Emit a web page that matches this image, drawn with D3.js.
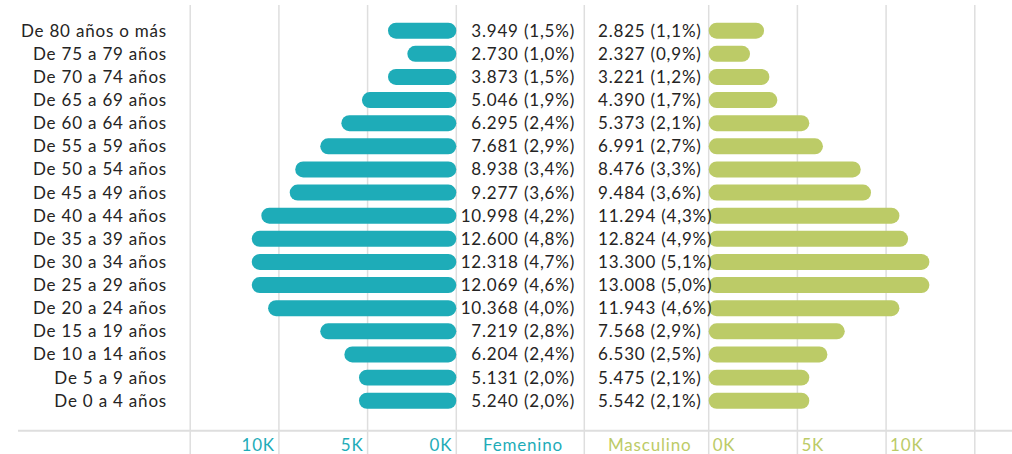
<!DOCTYPE html>
<html>
<head>
<meta charset="utf-8">
<script src="https://cdn.jsdelivr.net/npm/d3@7"></script>
<style>
  body { margin: 0; background: #fff; }
  svg { display: block; font-family: Lato, "Open Sans", sans-serif; letter-spacing: 0.8px; }
</style>
</head>
<body>
<svg id="chart" width="1012" height="454"></svg>
<script>
// age groups, top to bottom
const groups = ["De 80 años o más", "De 75 a 79 años", "De 70 a 74 años", "De 65 a 69 años",
  "De 60 a 64 años", "De 55 a 59 años", "De 50 a 54 años", "De 45 a 49 años",
  "De 40 a 44 años", "De 35 a 39 años", "De 30 a 34 años", "De 25 a 29 años",
  "De 20 a 24 años", "De 15 a 19 años", "De 10 a 14 años", "De 5 a 9 años", "De 0 a 4 años"];

// labels shown next to the bars
const femCount = ["3.949", "2.730", "3.873", "5.046", "6.295", "7.681", "8.938", "9.277",
  "10.998", "12.600", "12.318", "12.069", "10.368", "7.219", "6.204", "5.131", "5.240"];
const femPct = ["1,5", "1,0", "1,5", "1,9", "2,4", "2,9", "3,4", "3,6",
  "4,2", "4,8", "4,7", "4,6", "4,0", "2,8", "2,4", "2,0", "2,0"];
const mascCount = ["2.825", "2.327", "3.221", "4.390", "5.373", "6.991", "8.476", "9.484",
  "11.294", "12.824", "13.300", "13.008", "11.943", "7.568", "6.530", "5.475", "5.542"];
const mascPct = ["1,1", "0,9", "1,2", "1,7", "2,1", "2,7", "3,3", "3,6",
  "4,3", "4,9", "5,1", "5,0", "4,6", "2,9", "2,5", "2,1", "2,1"];

// bar lengths as drawn in the picture
const femBar = [3850, 2760, 3850, 5320, 6480, 7670, 9080, 9390,
  10990, 11530, 11530, 11530, 10610, 7670, 6310, 5485, 5485];
const mascBar = [3120, 2330, 3420, 3870, 5670, 6440, 8570, 9150,
  10750, 11240, 12440, 12440, 10750, 7670, 6690, 5670, 5670];

const ticks = [0, 5000, 10000, 15000];
const tickLabels = ["0K", "5K", "10K"];

const teal = "#1eacb8";
const green = "#bccb67";
const gridColor = "#dedede";

const svg = d3.select("#chart");

const y = d3.scaleBand().domain(groups).range([19.1, 412.3])
  .paddingInner(0.31).paddingOuter(0.155);
const xF = d3.scaleLinear().domain([0, 15000]).range([456.3, 190.2]);
const xM = d3.scaleLinear().domain([0, 15000]).range([708.7, 974.8]);

const rows = groups.map((g, i) => ({
  group: g, fb: femBar[i], mb: mascBar[i],
  fl: femCount[i] + " (" + femPct[i] + "%)",
  ml: mascCount[i] + " (" + mascPct[i] + "%)"
}));

// grid
const grid = svg.append("g").classed("grid", true);
const gx = ticks.map(t => xF(t)).concat([584.3], ticks.map(t => xM(t)));
grid.selectAll("line.v").data(gx).enter().append("line")
  .attr("x1", d => d).attr("x2", d => d)
  .attr("y1", 5).attr("y2", 454)
  .attr("stroke", gridColor).attr("stroke-width", 1.5);
grid.append("line")
  .attr("x1", 18).attr("x2", 1012).attr("y1", 430.7).attr("y2", 430.7)
  .attr("stroke", gridColor).attr("stroke-width", 2);

// bars
svg.append("g").selectAll("rect").data(rows).enter().append("rect")
  .attr("x", d => xF(d.fb)).attr("y", d => y(d.group))
  .attr("width", d => xF(0) - xF(d.fb)).attr("height", y.bandwidth())
  .attr("rx", y.bandwidth() / 2)
  .attr("fill", teal);
svg.append("g").selectAll("rect").data(rows).enter().append("rect")
  .attr("x", xM(0)).attr("y", d => y(d.group))
  .attr("width", d => xM(d.mb) - xM(0)).attr("height", y.bandwidth())
  .attr("rx", y.bandwidth() / 2)
  .attr("fill", green);

// text
const mid = d => y(d.group) + y.bandwidth() / 2 + 6;
const txt = svg.append("g").attr("font-size", "17px").attr("fill", "#252423");
txt.selectAll("text.cat").data(rows).enter().append("text")
  .attr("x", 167).attr("y", mid).attr("text-anchor", "end").text(d => d.group);
txt.selectAll("text.fl").data(rows).enter().append("text")
  .attr("x", 575).attr("y", mid).attr("text-anchor", "end").text(d => d.fl);
txt.selectAll("text.ml").data(rows).enter().append("text")
  .attr("x", 598).attr("y", mid).attr("text-anchor", "start").text(d => d.ml);

// axis labels
const ax = svg.append("g").attr("font-size", "17px");
ax.selectAll("text.tf").data(ticks.slice(0, 3)).enter().append("text")
  .attr("x", d => xF(d) - 4).attr("y", 451).attr("text-anchor", "end")
  .attr("fill", teal).text((d, i) => tickLabels[i]);
ax.selectAll("text.tm").data(ticks.slice(0, 3)).enter().append("text")
  .attr("x", d => xM(d) + 4).attr("y", 451).attr("text-anchor", "start")
  .attr("fill", green).text((d, i) => tickLabels[i]);
ax.append("text").attr("x", 483).attr("y", 451).attr("fill", teal).text("Femenino");
ax.append("text").attr("x", 608).attr("y", 451).attr("fill", green).text("Masculino");
</script>
</body>
</html>
